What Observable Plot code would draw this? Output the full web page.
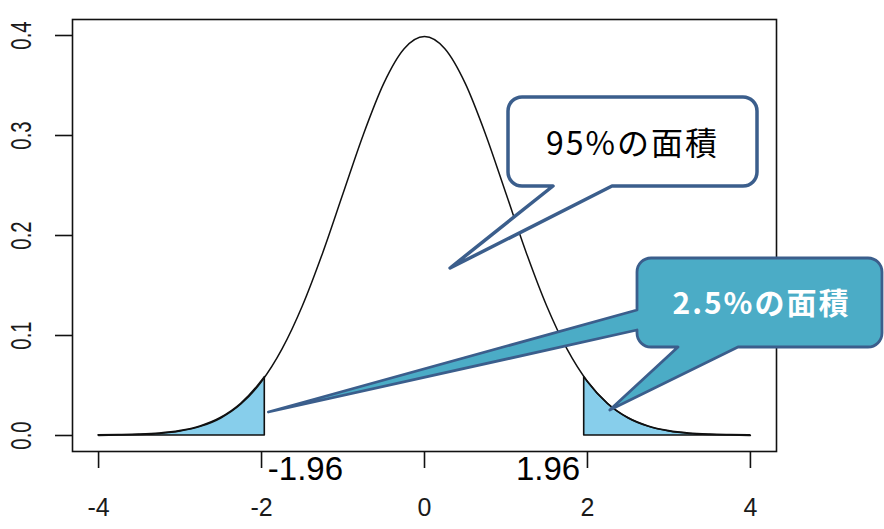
<!DOCTYPE html>
<html><head><meta charset="utf-8">
<script src="https://cdn.jsdelivr.net/npm/d3@7"></script>
<script src="https://cdn.jsdelivr.net/npm/@observablehq/plot@0.6"></script>
<style>body{margin:0;background:#fff;overflow:hidden}</style>
</head><body>
<script>
// ---- data ----
const curveX = [-4,-3.75,-3.5,-3.25,-3,-2.75,-2.5,-2.25,-2,-1.75,-1.5,-1.25,-1,-0.75,-0.5,-0.25,0,0.25,0.5,0.75,1,1.25,1.5,1.75,2,2.25,2.5,2.75,3,3.25,3.5,3.75,4];
const curveY = [0.0001,0.0004,0.0009,0.0020,0.0044,0.0091,0.0175,0.0317,0.0540,0.0863,0.1295,0.1826,0.2420,0.3011,0.3521,0.3867,0.3989,0.3867,0.3521,0.3011,0.2420,0.1826,0.1295,0.0863,0.0540,0.0317,0.0175,0.0091,0.0044,0.0020,0.0009,0.0004,0.0001];
const leftTailX = [-4,-3.75,-3.5,-3.25,-3,-2.75,-2.5,-2.25,-2,-1.96];
const leftTailY = [0.0001,0.0004,0.0009,0.0020,0.0044,0.0091,0.0175,0.0317,0.0540,0.0584];
const rightTailX = [1.96,2,2.25,2.5,2.75,3,3.25,3.5,3.75,4];
const rightTailY = [0.0584,0.0540,0.0317,0.0175,0.0091,0.0044,0.0020,0.0009,0.0004,0.0001];
const xTicks = [-4,-2,0,2,4];
const yTicks = [0,0.1,0.2,0.3,0.4];
const criticalValues = [-1.96, 1.96];
const criticalLabels = ["-1.96", "1.96"];
const calloutTexts = ["95%の面積", "2.5%の面積"];
// callout tips in data coordinates
const tip95 = {x: 0.32, y: 0.167};
const tipLeft = {x: -1.91, y: 0.023};
const tipRight = {x: 2.28, y: 0.025};

const curve = curveX.map((x, i) => ({x, y: curveY[i]}));
const leftTail = leftTailX.map((x, i) => ({x, y: leftTailY[i]}));
const rightTail = rightTailX.map((x, i) => ({x, y: rightTailY[i]}));

const sans = "'Liberation Sans', Arial, sans-serif";

const plot = Plot.plot({
  width: 884, height: 529,
  marginLeft: 72, marginRight: 108, marginTop: 19, marginBottom: 78,
  x: {domain: [-4.32, 4.32]},
  y: {domain: [-0.016, 0.416]},
  style: {background: "white", fontFamily: sans, color: "#1a1a1a"},
  marks: [
    Plot.areaY(leftTail, {x: "x", y: "y", fill: "#87CEEB", stroke: "#111", strokeWidth: 1.6, curve: "monotone-x"}),
    Plot.areaY(rightTail, {x: "x", y: "y", fill: "#87CEEB", stroke: "#111", strokeWidth: 1.6, curve: "monotone-x"}),
    Plot.lineY(curve, {x: "x", y: "y", stroke: "#111", strokeWidth: 1.5, curve: "monotone-x"}),
    Plot.frame({stroke: "#111", strokeWidth: 1.6}),
    Plot.axisX({ticks: xTicks, tickSize: 17, tickPadding: 30, fontSize: 25, stroke: "#111", strokeWidth: 1.6, label: null, tickFormat: d => String(d)}),
    Plot.axisY({ticks: yTicks, tickSize: 17, tickPadding: 25, fontSize: 30, tickRotate: -90, stroke: "#111", strokeWidth: 1.6, label: null, tickFormat: d3.format(".1f")}),
    Plot.text([criticalValues[0]], {x: d => d, text: () => criticalLabels[0], frameAnchor: "bottom", dy: 18, dx: 3, fontSize: 33, textAnchor: "start", lineAnchor: "middle", fill: "#000"}),
    Plot.text([criticalValues[1]], {x: d => d, text: () => criticalLabels[1], frameAnchor: "bottom", dy: 18, dx: -4, fontSize: 33, textAnchor: "end", lineAnchor: "middle", fill: "#000"})
  ]
});
document.body.appendChild(plot);

// compress rotated y tick labels along their length (as in the reference)
d3.select(plot).selectAll('g[aria-label="y-axis tick label"] text').each(function() {
  const t = this.getAttribute("transform") || "";
  this.setAttribute("transform", t + " scale(0.68,1)");
});

const sx = plot.scale("x"), sy = plot.scale("y");
const svg = d3.select(plot);
const P = d => [sx.apply(d.x), sy.apply(d.y)];

// callout layout (pixels)
const box95 = {x0: 508, y0: 97, x1: 757, y1: 186, r: 14, base: [553, 612]};
const box25 = {x0: 637, y0: 258, x1: 882, y1: 347, r: 14, leftBase: [310, 330], bottomBase: [678, 738]};

function arc(r, x, y) { return `A${r},${r} 0 0 1 ${x},${y}`; }

const t95 = P(tip95);
const path95 = `M${box95.x0 + box95.r},${box95.y0} H${box95.x1 - box95.r} ${arc(box95.r, box95.x1, box95.y0 + box95.r)} V${box95.y1 - box95.r} ${arc(box95.r, box95.x1 - box95.r, box95.y1)} H${box95.base[1]} L${t95[0]},${t95[1]} L${box95.base[0]},${box95.y1} H${box95.x0 + box95.r} ${arc(box95.r, box95.x0, box95.y1 - box95.r)} V${box95.y0 + box95.r} ${arc(box95.r, box95.x0 + box95.r, box95.y0)} Z`;

const tL = P(tipLeft), tR = P(tipRight);
const b = box25;
const path25 = `M${b.x0 + b.r},${b.y0} H${b.x1 - b.r} ${arc(b.r, b.x1, b.y0 + b.r)} V${b.y1 - b.r} ${arc(b.r, b.x1 - b.r, b.y1)} H${b.bottomBase[1]} L${tR[0]},${tR[1]} L${b.bottomBase[0]},${b.y1} H${b.x0 + b.r} ${arc(b.r, b.x0, b.y1 - b.r)} V${b.leftBase[1]} L${tL[0]},${tL[1]} L${b.x0},${b.leftBase[0]} V${b.y0 + b.r} ${arc(b.r, b.x0 + b.r, b.y0)} Z`;

const g = svg.append("g");
g.append("path").attr("d", path95).attr("fill", "#fff").attr("stroke", "#3B5E8C").attr("stroke-width", 3.5).attr("stroke-linejoin", "round");
g.append("text").attr("x", (box95.x0 + box95.x1) / 2).attr("y", 143).attr("dy", "0.36em")
  .attr("text-anchor", "middle").attr("font-family", "'Noto Sans CJK JP', sans-serif")
  .attr("font-size", 32).attr("letter-spacing", 2).attr("fill", "#000").text(calloutTexts[0]);
g.append("path").attr("d", path25).attr("fill", "#4BACC6").attr("stroke", "#3B5E8C").attr("stroke-width", 2.8).attr("stroke-linejoin", "round");
g.append("text").attr("x", (b.x0 + b.x1) / 2 + 2).attr("y", 303).attr("dy", "0.36em")
  .attr("text-anchor", "middle").attr("font-family", "'Noto Sans CJK JP', sans-serif").attr("font-weight", "bold")
  .attr("font-size", 30).attr("letter-spacing", 2).attr("fill", "#fff").text(calloutTexts[1]);
</script>
</body></html>
